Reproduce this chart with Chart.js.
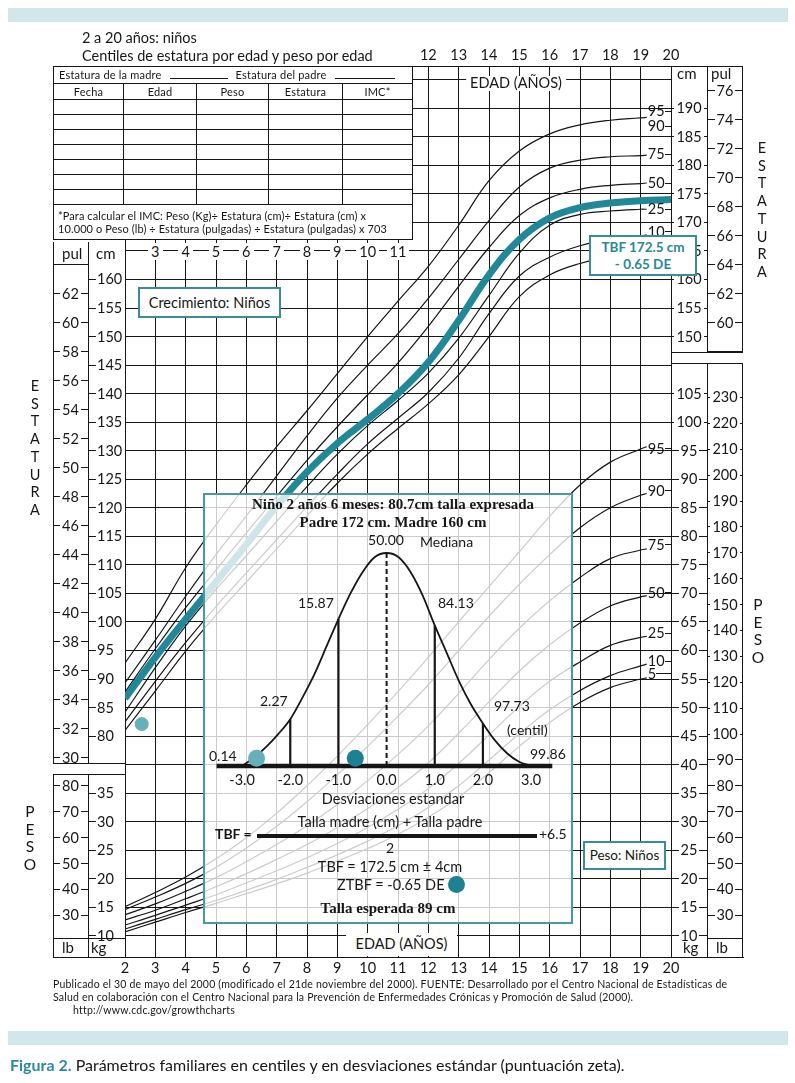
<!DOCTYPE html>
<html lang="es">
<head>
<meta charset="utf-8">
<title>Figura 2 - Centiles de estatura y peso</title>
<script src="https://cdn.jsdelivr.net/npm/chart.js@4.4.1/dist/chart.umd.min.js"></script>
<style>
    html, body { margin: 0; padding: 0; background: #fff; }
    #page { position: relative; width: 795px; height: 1083px; overflow: hidden; font-family: Lato, 'Open Sans', sans-serif; color: #161616; }
    #page canvas { position: absolute; left: 0; top: 0; }
    #growth { z-index: 1; }
    .band { position: absolute; left: 8px; width: 780px; height: 14px; background: #d2e7eb; }
    .t { position: absolute; white-space: nowrap; line-height: 1; font-size: 14px; z-index: 2; }
    .c { transform: translateX(-50%); }
    .ln { position: absolute; background: #161616; z-index: 2; }
    .box { position: absolute; box-sizing: border-box; border: 2px solid #3b8d94; background: #fff; z-index: 6; display: flex; align-items: center; justify-content: center; text-align: center; font-size: 14.5px; line-height: 1.2; }
    .tick { position: absolute; height: 16px; display: flex; align-items: center; font-size: 14.5px; line-height: 16px; z-index: 2; }
    .tick.both::before, .tick.both::after { content: ''; flex: 1; border-top: 1px solid #161616; }
    .tick.both span { padding: 0 2px; }
    .tick.lead::before { content: ''; width: 8px; border-top: 1px solid #161616; margin-right: 1px; }
    .pct { position: absolute; height: 16px; display: flex; align-items: center; font-size: 14.5px; line-height: 16px; z-index: 2; }
    .pct::after { content: ''; flex: 1; border-top: 1px solid #161616; }
    .age { position: absolute; width: 30px; text-align: center; font-size: 14.5px; line-height: 16px; z-index: 2; }
    .age.mid span { background: #fff; padding: 0 3px; }
    .vtext { position: absolute; width: 16px; text-align: center; font-size: 14.5px; line-height: 17.7px; z-index: 2; }
    #sheet { position: absolute; left: 53px; top: 66px; width: 359px; border-collapse: collapse; table-layout: fixed; background: #fff; font-size: 11px; letter-spacing: 0.2px; z-index: 2; }
    #sheet td { border: 1px solid #161616; padding: 0 4px; height: 14px; line-height: 14px; white-space: nowrap; overflow: hidden; }
    #sheet .r0 td { height: 16px; padding-left: 5px; }
    #sheet .hd td { text-align: center; height: 15px; }
    #sheet .note td { height: 34px; line-height: 13px; font-size: 11px; letter-spacing: 0.1px; }
    .blank { display: inline-block; border-bottom: 1px solid #161616; height: 8px; margin: 0 8px; }
    #inset { position: absolute; left: 203px; top: 493px; width: 370px; height: 431px; box-sizing: border-box; border: 2.5px solid #4b989e; background: rgba(255, 255, 255, 0.78); z-index: 3; }
    #bell { z-index: 4; }
    .in { z-index: 5; }
    .serif { font-family: 'Liberation Serif', 'DejaVu Serif', serif; font-weight: bold; font-size: 15px; }
    .dot { position: absolute; width: 17px; height: 17px; border-radius: 50%; background: #1d8191; z-index: 5; }
    .footer { position: absolute; left: 53px; font-size: 10.5px; letter-spacing: 0.2px; line-height: 13px; white-space: nowrap; z-index: 2; }
</style>
</head>
<body>
<div id="page">
    <div class="band" style="top:8px"></div>
    <div class="band" style="top:1031px"></div>

    <canvas id="growth" width="795" height="1083" style="width:795px;height:1083px"></canvas>

    <div class="t" style="left:82px;top:31px;font-size:14.5px">2 a 20 años: niños</div>
    <div class="t" style="left:82px;top:49px;font-size:14.5px">Centiles de estatura por edad y peso por edad</div>

    <table id="sheet">
        <colgroup><col style="width:70px"><col style="width:73px"><col style="width:72px"><col style="width:74px"><col style="width:70px"></colgroup>
        <tr class="r0"><td colspan="5">Estatura de la madre<span class="blank" style="width:58px"></span>Estatura del padre<span class="blank" style="width:60px"></span></td></tr>
        <tr class="hd"><td>Fecha</td><td>Edad</td><td>Peso</td><td>Estatura</td><td>IMC*</td></tr>
        <tr><td></td><td></td><td></td><td></td><td></td></tr>
        <tr><td></td><td></td><td></td><td></td><td></td></tr>
        <tr><td></td><td></td><td></td><td></td><td></td></tr>
        <tr><td></td><td></td><td></td><td></td><td></td></tr>
        <tr><td></td><td></td><td></td><td></td><td></td></tr>
        <tr><td></td><td></td><td></td><td></td><td></td></tr>
        <tr><td></td><td></td><td></td><td></td><td></td></tr>
        <tr class="note"><td colspan="5">*Para calcular el IMC: Peso (Kg)÷ Estatura (cm)÷ Estatura (cm) x<br>10.000 o Peso (lb) ÷ Estatura (pulgadas) ÷ Estatura (pulgadas) x 703</td></tr>
    </table>

    <div class="t" style="left:62px;top:246px;font-size:15px">pul</div>
    <div class="t" style="left:96px;top:246px;font-size:15px">cm</div>
    <div class="t" style="left:677px;top:66px;font-size:15px">cm</div>
    <div class="t" style="left:711px;top:66px;font-size:15px">pul</div>
    <div class="t" style="left:62px;top:940px;font-size:15px">lb</div>
    <div class="t" style="left:91px;top:940px;font-size:15px">kg</div>
    <div class="t" style="left:683px;top:940px;font-size:15px">kg</div>
    <div class="t" style="left:716px;top:940px;font-size:15px">lb</div>

    <div class="t c" style="left:516px;top:76px;background:#fff;padding:0 4px;font-size:14.5px">EDAD (AÑOS)</div>
    <div class="t" style="left:346px;top:933px;width:111px;height:23px;background:#fff;text-align:center;line-height:22px;font-size:14.5px">EDAD (AÑOS)</div>

    <div class="vtext" style="left:27px;top:377px">E<br>S<br>T<br>A<br>T<br>U<br>R<br>A</div>
    <div class="vtext" style="left:754px;top:139px">E<br>S<br>T<br>A<br>T<br>U<br>R<br>A</div>
    <div class="vtext" style="left:22px;top:803px;font-size:15.5px">P<br>E<br>S<br>O</div>
    <div class="vtext" style="left:750px;top:596px;font-size:15.5px">P<br>E<br>S<br>O</div>

    <div class="box" style="left:138px;top:287px;width:143px;height:31px">Crecimiento: Niños</div>
    <div class="box" style="left:583px;top:841px;width:83px;height:29px;font-size:13.5px">Peso: Niños</div>
    <div class="box" style="left:589px;top:235px;width:108px;height:41px;color:#2a8893;font-weight:bold;font-size:13.5px">TBF 172.5 cm<br>- 0.65 DE</div>

    <div id="inset"></div>
    <canvas id="bell" width="367" height="262" style="left:205px;top:530px;width:367px;height:262px"></canvas>

    <div class="t c in serif" style="left:393px;top:497px">Niño 2 años 6 meses: 80.7cm talla expresada</div>
    <div class="t c in serif" style="left:393px;top:515px">Padre 172 cm. Madre 160 cm</div>
    <div class="t c in" style="left:386px;top:533px">50.00</div>
    <div class="t in" style="left:420px;top:535px">Mediana</div>
    <div class="t in" style="left:298px;top:596px">15.87</div>
    <div class="t in" style="left:438px;top:596px">84.13</div>
    <div class="t in" style="left:260px;top:694px">2.27</div>
    <div class="t in" style="left:494px;top:699px">97.73</div>
    <div class="t in" style="left:507px;top:723px">(centil)</div>
    <div class="t in" style="left:209px;top:749px">0.14</div>
    <div class="t in" style="left:530px;top:747px">99.86</div>
    <div class="t c in" style="left:393px;top:792px;font-size:14.5px">Desviaciones estandar</div>
    <div class="t c in" style="left:390px;top:815px;font-size:14.5px">Talla madre (cm) + Talla padre</div>
    <div class="t in" style="left:215px;top:827px;font-weight:bold">TBF =</div>
    <div class="ln in" style="left:257px;top:834px;width:280px;height:4px"></div>
    <div class="t in" style="left:539px;top:827px">+6.5</div>
    <div class="t c in" style="left:390px;top:841px">2</div>
    <div class="t c in" style="left:390px;top:860px;font-size:14.5px">TBF = 172.5 cm ± 4cm</div>
    <div class="t in" style="left:337px;top:878px;font-size:14.5px">ZTBF = -0.65 DE</div>
    <div class="dot" style="left:448px;top:876px"></div>
    <div class="t c in serif" style="left:388px;top:901px">Talla esperada 89 cm</div>

    <div class="footer" style="top:978px">Publicado el 30 de mayo del 2000 (modificado el 21de noviembre del 2000). FUENTE: Desarrollado por el Centro Nacional de Estadísticas de</div>
    <div class="footer" style="top:991px">Salud en colaboración con el Centro Nacional para la Prevención de Enfermedades Crónicas y Promoción de Salud (2000).</div>
    <div class="footer" style="top:1004px;left:73px">http://www.cdc.gov/growthcharts</div>

    <div class="t" style="left:10px;top:1057px;font-size:16px"><span style="color:#2b8a9b;font-weight:bold">Figura 2.</span> Parámetros familiares en centiles y en desviaciones estándar (puntuación zeta).</div>
</div>

<script>
    // Edades (años) en las que se leen los centiles
    const ages = [2, 3, 4, 5, 6, 7, 8, 9, 10, 11, 12, 13, 14, 15, 16, 17, 18, 19, 19.2];

    // Estatura por edad (cm)
    const stature95 = [92.8, 100.5, 109.5, 117, 124, 130.7, 137, 143.5, 150, 156.2, 162.3, 169.5, 177.3, 182.5, 185.5, 187.1, 187.9, 188.3, 188.4];
    const stature75 = [89.3, 96.8, 104.5, 111.8, 118.6, 125.6, 132.6, 139.2, 145, 150.5, 156.7, 163.5, 170.3, 176.2, 179.5, 180.9, 181.5, 181.7, 181.8];
    const stature50 = [87.7, 95.3, 102.5, 109.1, 115.6, 122, 128.3, 134.2, 139.8, 145.4, 151.8, 158.8, 165.6, 171.2, 174.3, 175.8, 176.5, 176.8, 176.9];
    const stature25 = [84.2, 92, 99.3, 105.7, 111.6, 117.6, 123.7, 129.4, 134.4, 138.8, 143.6, 149.7, 157.2, 164.6, 169.5, 171.4, 172, 172.3, 172.3];
    const stature10 = [82.5, 89.6, 96.4, 102.7, 108.6, 114.4, 120.2, 125.9, 131.2, 135.7, 140.2, 146.2, 154, 160.6, 163.9, 165.9, 167, 167.6, 167.8];
    const stature5 = [81, 87.9, 94.9, 101.2, 107, 112.8, 118.6, 124.3, 129.4, 133.9, 138.2, 143.3, 150, 157, 160.8, 162.8, 164, 164.6, 164.8];

    // Peso por edad (kg)
    const weight95 = [15.1, 17.6, 20.3, 23.5, 27.2, 31.5, 36.3, 41.5, 47, 52.8, 58.8, 65, 71.2, 77.3, 83.5, 89, 93, 95.3, 95.7];
    const weight90 = [14.6, 16.8, 19.2, 22, 25.4, 29.2, 33.5, 38.2, 43.2, 48.5, 54, 60, 66, 71.6, 76.8, 81.5, 85, 87.2, 87.5];
    const weight75 = [13.7, 15.6, 17.8, 20.2, 23, 26, 29.3, 33, 37.2, 41.8, 46.8, 52.5, 58.4, 63.9, 68.7, 72.8, 76.1, 77.6, 77.8];
    const weight50 = [12.8, 14.5, 16.5, 18.6, 20.9, 23.4, 26, 29, 32.3, 36, 40.3, 45.5, 51, 56.4, 61, 64.8, 67.8, 69.4, 69.6];
    const weight25 = [11.9, 13.6, 15.4, 17.2, 19.3, 21.4, 23.7, 26.2, 29, 32.2, 35.8, 40.2, 45.2, 50.2, 54.6, 58, 60.9, 62.3, 62.5];
    const weight10 = [11.2, 12.9, 14.6, 16.2, 18, 19.9, 22, 24.2, 26.6, 29.3, 32.5, 36.3, 40.8, 45.4, 49.6, 53, 55.6, 57.3, 57.6];
    const weight5 = [10.7, 12.4, 14.1, 15.7, 17.4, 19.1, 21, 23.1, 25.3, 27.8, 30.8, 34.3, 38.6, 43.2, 47.4, 50.9, 53.5, 55, 55.2];

    // Trayectoria hacia la talla blanco familiar (TBF)
    const targetAges = [2, 3, 4, 5, 6, 7, 8, 9, 10, 11, 12, 13, 14, 15, 16, 17, 18, 19, 20];
    const targetStature = [86.6, 93.8, 100.5, 107, 113.6, 120.3, 126.3, 131.3, 135.5, 140, 145.5, 152.8, 160.8, 167, 170.8, 172.6, 173.4, 173.8, 174];

    // Medida del niño
    const childAge = [2.55];
    const childStature = [82.1];

    // Ticks y rejilla
    const ageGrid = [2, 3, 4, 5, 6, 7, 8, 9, 10, 11, 12, 13, 14, 15, 16, 17, 18, 19, 20];
    const ageLabelsTop = [12, 13, 14, 15, 16, 17, 18, 19, 20];
    const ageLabelsMid = [3, 4, 5, 6, 7, 8, 9, 10, 11];
    const cmGrid = [45, 50, 55, 60, 65, 70, 75, 80, 85, 90, 95, 100, 105, 110, 115, 120, 125, 130, 135, 140, 145, 150, 155, 160, 165, 170, 175, 180, 185, 190, 195];
    const cmTicksLeft = [80, 85, 90, 95, 100, 105, 110, 115, 120, 125, 130, 135, 140, 145, 150, 155, 160];
    const pulTicksLeft = [30, 32, 34, 36, 38, 40, 42, 44, 46, 48, 50, 52, 54, 56, 58, 60, 62];
    const cmTicksRight = [150, 155, 160, 165, 170, 175, 180, 185, 190];
    const pulTicksRight = [60, 62, 64, 66, 68, 70, 72, 74, 76];
    const kgTicksLeft = [10, 15, 20, 25, 30, 35];
    const lbTicksLeft = [30, 40, 50, 60, 70, 80];
    const kgTicksRight = [10, 15, 20, 25, 30, 35, 40, 45, 50, 55, 60, 65, 70, 75, 80, 85, 90, 95, 100, 105];
    const lbTicksRight = [30, 40, 50, 60, 70, 80, 90, 100, 110, 120, 130, 140, 150, 160, 170, 180, 190, 200, 210, 220, 230];

    // Curva normal (desviaciones estandar)
    const zValues = [-3, -2.75, -2.5, -2.25, -2, -1.75, -1.5, -1.25, -1, -0.75, -0.5, -0.25, 0, 0.25, 0.5, 0.75, 1, 1.25, 1.5, 1.75, 2, 2.25, 2.5, 2.75, 3];
    const bellHeights = [0, 0.04, 0.09, 0.15, 0.22, 0.32, 0.43, 0.56, 0.69, 0.81, 0.91, 0.98, 1, 0.98, 0.91, 0.8, 0.66, 0.53, 0.4, 0.29, 0.2, 0.12, 0.06, 0.02, 0];
    const sdMarks = [-2, -1, 1, 2];
    const sdMarkHeights = [0.22, 0.69, 0.66, 0.2];
    const zTicks = [-3, -2, -1, 0, 1, 2, 3];
    const zAxisSpan = [-3.53, 3.44];
    const zScores = [-2.7, -0.65];

    const INK = '#161616';
    const TEAL = '#21889a';
    const LIGHT_TEAL = '#66b0ba';
    const CHILD_TEAL = '#1d8191';

    Chart.defaults.font.family = 'Lato, "Open Sans", sans-serif';

    const page = document.getElementById('page');

    function toPoints(xs, ys) {
        return xs.map((x, i) => ({ x, y: ys[i] }));
    }

    function centileLine(values, axis) {
        return {
            data: toPoints(ages, values),
            borderColor: INK,
            borderWidth: 1.2,
            yAxisID: axis,
            pointRadius: 0,
            tension: 0.4,
            order: 2
        };
    }

    const growthChart = new Chart(document.getElementById('growth'), {
        type: 'line',
        data: {
            datasets: [
                {
                    data: toPoints(childAge, childStature),
                    showLine: false,
                    pointRadius: 7,
                    pointBackgroundColor: LIGHT_TEAL,
                    pointBorderWidth: 0,
                    order: 0
                },
                {
                    data: toPoints(targetAges, targetStature),
                    borderColor: TEAL,
                    borderWidth: 7,
                    pointRadius: 0,
                    tension: 0.4,
                    order: 1
                },
                centileLine(stature95, 'y'),
                centileLine(stature75, 'y'),
                centileLine(stature50, 'y'),
                centileLine(stature25, 'y'),
                centileLine(stature10, 'y'),
                centileLine(stature5, 'y'),
                centileLine(weight95, 'yKg'),
                centileLine(weight90, 'yKg'),
                centileLine(weight75, 'yKg'),
                centileLine(weight50, 'yKg'),
                centileLine(weight25, 'yKg'),
                centileLine(weight10, 'yKg'),
                centileLine(weight5, 'yKg')
            ]
        },
        options: {
            responsive: false,
            animation: false,
            events: [],
            layout: { padding: { left: 125, right: 124, top: 66, bottom: 126 } },
            plugins: { legend: { display: false }, tooltip: { enabled: false } },
            scales: {
                x: {
                    type: 'linear',
                    min: 2,
                    max: 20,
                    afterBuildTicks: scale => { scale.ticks = ageGrid.map(value => ({ value })); },
                    afterFit: scale => { scale.height = 0; },
                    ticks: { display: false },
                    grid: { color: INK, lineWidth: 1, drawTicks: false },
                    border: { display: false }
                },
                y: {
                    type: 'linear',
                    min: 41.3,
                    max: 197.4,
                    afterBuildTicks: scale => { scale.ticks = cmGrid.map(value => ({ value })); },
                    afterFit: scale => { scale.width = 0; },
                    ticks: { display: false },
                    grid: { color: INK, lineWidth: 1, drawTicks: false },
                    border: { display: false }
                },
                // el peso comparte la rejilla: 1 kg ocupa lo mismo que 1 cm, desplazado 35
                yKg: { type: 'linear', min: 6.3, max: 162.4, display: false }
            }
        }
    });

    const xAge = v => growthChart.scales.x.getPixelForValue(v);
    const yCm = v => growthChart.scales.y.getPixelForValue(v);
    const yKg = v => growthChart.scales.yKg.getPixelForValue(v);
    const yPul = v => yCm(v * 2.54);
    const yLb = v => yKg(v / 2.20462);

    function addLine(left, top, width, height) {
        const el = document.createElement('div');
        el.className = 'ln';
        Object.assign(el.style, { left: left + 'px', top: top + 'px', width: width + 'px', height: height + 'px' });
        page.appendChild(el);
    }

    // marcos de las columnas de unidades
    addLine(412, 66, 331, 1);
    addLine(53, 957, 691, 1);
    addLine(53, 242, 1, 522);
    addLine(88, 242, 1, 522);
    addLine(53, 264, 35, 1);
    addLine(53, 763, 72, 1);
    addLine(53, 774, 72, 1);
    addLine(53, 774, 1, 184);
    addLine(88, 774, 1, 184);
    addLine(53, 938, 72, 1);
    addLine(707, 66, 1, 287);
    addLine(742, 66, 1, 287);
    addLine(671, 352, 72, 1);
    addLine(707, 351, 36, 2);
    addLine(671, 363, 72, 1);
    addLine(707, 363, 1, 595);
    addLine(742, 363, 1, 595);
    addLine(707, 938, 36, 1);

    function addTicks(values, toY, left, width, mode) {
        values.forEach(v => {
            const el = document.createElement('div');
            el.className = 'tick ' + mode;
            el.style.left = left + 'px';
            el.style.width = width + 'px';
            el.style.top = (toY(v) - 8) + 'px';
            el.innerHTML = '<span>' + v + '</span>';
            page.appendChild(el);
        });
    }

    addTicks(pulTicksLeft, yPul, 53, 35, 'both');
    addTicks(cmTicksLeft, yCm, 88, 37, 'lead');
    addTicks(lbTicksLeft, yLb, 53, 35, 'both');
    addTicks(kgTicksLeft, yKg, 88, 37, 'lead');
    addTicks(cmTicksRight, yCm, 671, 36, 'both');
    addTicks(pulTicksRight, yPul, 707, 36, 'both');
    addTicks(kgTicksRight, yKg, 671, 36, 'both');
    addTicks(lbTicksRight, yLb, 707, 36, 'both');

    function addAgeLabels(values, centerY, extraClass) {
        values.forEach(v => {
            const el = document.createElement('div');
            el.className = 'age ' + extraClass;
            el.style.left = (xAge(v) - 15) + 'px';
            el.style.top = (centerY - 8) + 'px';
            el.innerHTML = '<span>' + v + '</span>';
            page.appendChild(el);
        });
    }

    addAgeLabels(ageLabelsTop, 55, '');
    addAgeLabels(ageLabelsMid, 252, 'mid');
    addAgeLabels(ageGrid, 968, '');

    // etiquetas de centil al final de cada curva
    const centileTags = [
        { text: '95', values: stature95, toY: yCm, dy: -6 },
        { text: '90', values: stature95, toY: yCm, dy: 9 },
        { text: '75', values: stature75, toY: yCm, dy: -1 },
        { text: '50', values: stature50, toY: yCm, dy: 0 },
        { text: '25', values: stature25, toY: yCm, dy: 0 },
        { text: '10', values: stature10, toY: yCm, dy: -3 },
        { text: '95', values: weight95, toY: yKg, dy: 2 },
        { text: '90', values: weight90, toY: yKg, dy: -3 },
        { text: '75', values: weight75, toY: yKg, dy: -4 },
        { text: '50', values: weight50, toY: yKg, dy: -3 },
        { text: '25', values: weight25, toY: yKg, dy: -3 },
        { text: '10', values: weight10, toY: yKg, dy: -3 },
        { text: '5', values: weight5, toY: yKg, dy: -4 }
    ];

    const tagLeft = xAge(ages[ages.length - 1]) + 1;
    const tagWidth = xAge(20) - tagLeft;
    centileTags.forEach(tag => {
        const el = document.createElement('div');
        el.className = 'pct';
        el.style.left = tagLeft + 'px';
        el.style.width = tagWidth + 'px';
        el.style.top = (tag.toY(tag.values[tag.values.length - 1]) + tag.dy - 8) + 'px';
        el.innerHTML = '<span>' + tag.text + '</span>';
        page.appendChild(el);
    });

    // gráfico de la campana de Gauss en el recuadro
    function segment(x1, y1, x2, y2, width, dash) {
        return {
            data: [{ x: x1, y: y1 }, { x: x2, y: y2 }],
            borderColor: INK,
            borderWidth: width,
            borderDash: dash || [],
            pointRadius: 0,
            clip: false
        };
    }

    new Chart(document.getElementById('bell'), {
        type: 'line',
        data: {
            datasets: [
                {
                    data: zScores.map(z => ({ x: z, y: 0.036 })),
                    showLine: false,
                    pointRadius: 8.5,
                    pointBackgroundColor: [LIGHT_TEAL, CHILD_TEAL],
                    pointBorderWidth: 0,
                    clip: false
                },
                segment(zAxisSpan[0], 0, zAxisSpan[1], 0, 4.5),
                segment(0, 0, 0, 1, 2, [5, 3]),
                ...sdMarks.map((z, i) => segment(z, 0, z, sdMarkHeights[i], 2.2)),
                {
                    data: toPoints(zValues, bellHeights),
                    borderColor: INK,
                    borderWidth: 1.8,
                    pointRadius: 0,
                    cubicInterpolationMode: 'monotone',
                    clip: false
                }
            ]
        },
        options: {
            responsive: false,
            animation: false,
            events: [],
            layout: { padding: 0 },
            plugins: { legend: { display: false }, tooltip: { enabled: false } },
            scales: {
                x: {
                    type: 'linear',
                    min: -3.594,
                    max: 3.673,
                    afterBuildTicks: scale => { scale.ticks = zTicks.map(value => ({ value })); },
                    afterFit: scale => { scale.height = 26; },
                    ticks: {
                        color: INK,
                        padding: 6,
                        maxRotation: 0,
                        autoSkip: false,
                        font: { size: 14.5 },
                        callback: value => Number(value).toFixed(1)
                    },
                    grid: { display: false, drawTicks: false },
                    border: { display: false }
                },
                y: { type: 'linear', min: 0, max: 1.068, display: false }
            }
        }
    });
</script>
</body>
</html>
